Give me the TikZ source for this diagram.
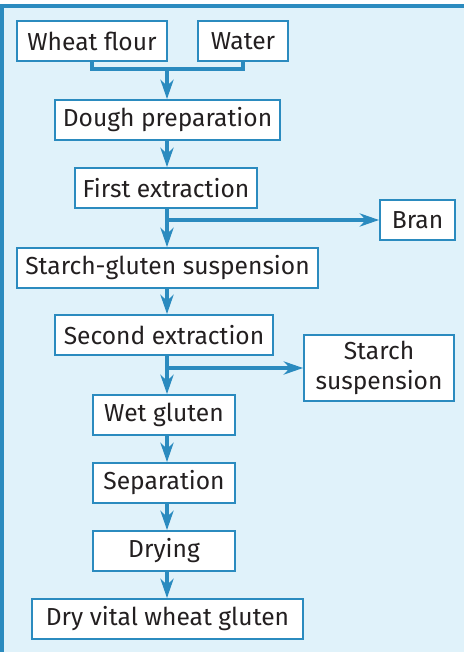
\documentclass[tikz,border=0pt]{standalone}
\usepackage{fontspec}
\setmainfont{Fira Sans}
\usetikzlibrary{arrows.meta}
\definecolor{flowblue}{HTML}{2B8BBF}
\definecolor{panelblue}{HTML}{E0F2FA}
\definecolor{inkgray}{HTML}{231F20}
\tikzset{
  stage/.style={draw=flowblue, line width=1.1pt, fill=white, text=inkgray,
    minimum height=0.8cm, inner sep=0pt, font=\fontsize{14}{17.5}\selectfont},
  flow/.style={draw=flowblue, line width=1.8pt, -{Stealth[length=11pt,width=7.5pt,inset=3.5pt]}},
  feed/.style={draw=flowblue, line width=1.8pt},
}
\begin{document}
\begin{tikzpicture}[x=0.02cm,y=-0.02cm]
  \useasboundingbox (0,0) rectangle (464,652);
  \fill[panelblue] (0,5) rectangle (464,652);
  \draw[flowblue, line width=1.8pt] (2,652) -- (2,6) -- (464,6);

  \coordinate (spine) at (167,0);
  \coordinate (join) at (167,69);
  \coordinate (split1) at (167,220);
  \coordinate (split2) at (167,368);

  \node[stage, minimum width=3cm] (flour) at (92,41) {Wheat flour};
  \node[stage, minimum width=1.8cm] (water) at (243,41) {Water};
  \node[stage, minimum width=4.5cm] (dough) at (167.5,120) {Dough preparation};
  \node[stage, minimum width=3.64cm] (first) at (166,188) {First extraction};
  \node[stage, minimum width=1.5cm] (bran) at (417.5,220) {Bran};
  \node[stage, minimum width=6.02cm] (sgsusp) at (167.5,268) {Starch-gluten suspension};
  \node[stage, minimum width=4.36cm] (second) at (164,335) {Second extraction};
  \node[stage, minimum width=3cm, minimum height=1.32cm, align=center] (starch) at (379,368) {Starch\\suspension};
  \node[stage, minimum width=2.84cm] (wet) at (164,415) {Wet gluten};
  \node[stage, minimum width=2.84cm] (sep) at (164,483) {Separation};
  \node[stage, minimum width=2.84cm] (dry) at (164,551) {Drying};
  \node[stage, minimum width=5.42cm] (vital) at (167.5,619) {Dry vital wheat gluten};

  \draw[feed] (flour.south) |- (join) -| (water.south);
  \draw[flow] (join) -- (dough.north -| join);
  \draw[flow] (dough.south -| spine) -- (first.north -| spine);
  \draw[flow] (first.south -| spine) -- (sgsusp.north -| spine);
  \draw[flow] (split1) -- (bran.west);
  \draw[flow] (sgsusp.south -| spine) -- (second.north -| spine);
  \draw[flow] (second.south -| spine) -- (wet.north -| spine);
  \draw[flow] (split2) -- (starch.west);
  \draw[flow] (wet.south -| spine) -- (sep.north -| spine);
  \draw[flow] (sep.south -| spine) -- (dry.north -| spine);
  \draw[flow] (dry.south -| spine) -- (vital.north -| spine);
\end{tikzpicture}
\end{document}
